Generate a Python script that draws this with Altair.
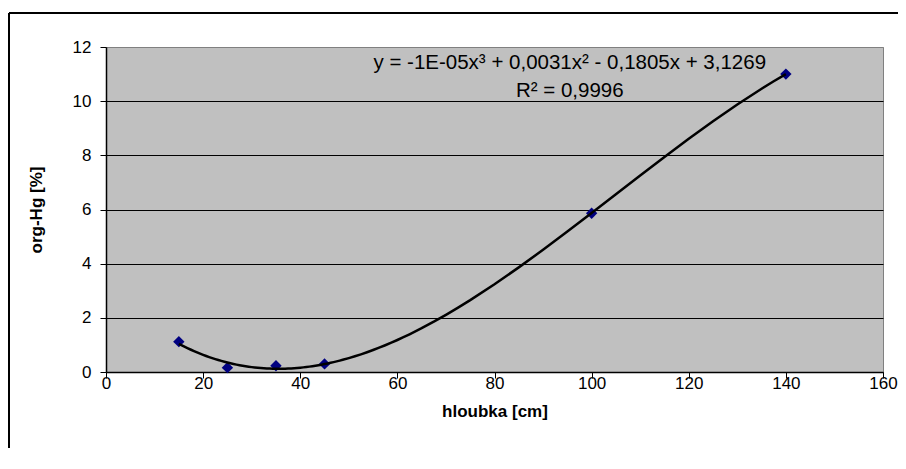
import altair as alt
import pandas as pd

# Data
depth = [15, 25, 35, 45, 100, 140]
org_hg = [1.12, 0.16, 0.23, 0.30, 5.86, 11.0]

x_ticks = [0, 20, 40, 60, 80, 100, 120, 140, 160]
y_ticks = [0, 2, 4, 6, 8, 10, 12]

eq_text = ["y = -1E-05x\u00b3 + 0,0031x\u00b2 - 0,1805x + 3,1269", "R\u00b2 = 0,9996"]
eq_x = [95.5, 95.5]
eq_y = [11.42, 10.36]

FONT = "Liberation Sans"
FS = 17
EQ_FS = 20.5

df = pd.DataFrame({"hloubka": depth, "orgHg": org_hg})
df_text = pd.DataFrame({"t": eq_text, "x": eq_x, "y": eq_y})

xs = alt.Scale(domain=[0, 160], nice=False, zero=False)
ys = alt.Scale(domain=[0, 12], nice=False, zero=False)

xaxis = alt.Axis(
    values=x_ticks, title="hloubka [cm]", grid=False,
    labelFont=FONT, labelFontSize=FS, labelColor="black",
    titleFont=FONT, titleFontSize=FS, titleFontWeight="bold", titleColor="black",
    tickSize=6, tickColor="black", domainColor="black", domainWidth=1.5,
    labelPadding=-3, titlePadding=12, labelFlush=False,
)
yaxis = alt.Axis(
    values=y_ticks, title="org-Hg [%]",
    grid=True,
    gridColor=alt.condition("datum.value == 12", alt.value("#808080"), alt.value("black")),
    gridWidth=1,
    labelFont=FONT, labelFontSize=FS, labelColor="black",
    titleFont=FONT, titleFontSize=FS, titleFontWeight="bold", titleColor="black",
    tickSize=6, tickColor="black", domainColor="black", domainWidth=1.5,
    labelPadding=9, titlePadding=27, labelFlush=False,
)

base = alt.Chart(df)

points = base.mark_point(
    shape="diamond", filled=True, size=130, color="#000080", opacity=1
).encode(
    x=alt.X("hloubka:Q", scale=xs, axis=xaxis),
    y=alt.Y("orgHg:Q", scale=ys, axis=yaxis),
)

trend = base.transform_regression(
    "hloubka", "orgHg", method="poly", order=3, extent=[15, 140]
).mark_line(color="black", strokeWidth=2.5).encode(
    x=alt.X("hloubka:Q", scale=xs),
    y=alt.Y("orgHg:Q", scale=ys),
)

text = alt.Chart(df_text).mark_text(
    font=FONT, fontSize=EQ_FS, color="black", align="center", baseline="middle"
).encode(
    x=alt.X("x:Q", scale=xs),
    y=alt.Y("y:Q", scale=ys),
    text="t:N",
)

dummy = pd.DataFrame({"a": [0]})
frame_top = alt.Chart(dummy).mark_rule(color="black", strokeWidth=2).encode(
    x=alt.value(-97), x2=alt.value(800), y=alt.value(-34)
)
frame_left = alt.Chart(dummy).mark_rule(color="black", strokeWidth=2).encode(
    x=alt.value(-97), y=alt.value(-34), y2=alt.value(500)
)

chart = alt.layer(points, trend, text, frame_top, frame_left).properties(
    width=777, height=325,
    background="white",
    autosize=alt.AutoSizeParams(type="none"),
    padding={"left": 98, "top": 39, "right": 15, "bottom": 76},
).configure_view(
    fill="#C0C0C0", stroke="#808080", strokeWidth=1
)

chart.save("out.html", embed_options={"renderer": "svg", "actions": False})
